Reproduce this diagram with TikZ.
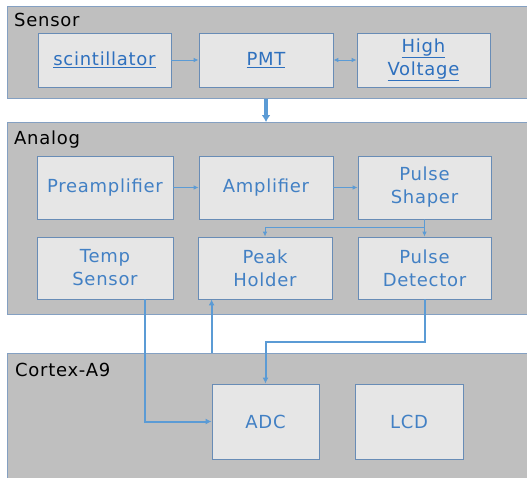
\documentclass[tikz,border=0pt]{standalone}
\usepackage{fontspec}
\setmainfont{DejaVu Sans}[LetterSpace=4]
\usetikzlibrary{arrows.meta,calc}
\definecolor{panelfill}{RGB}{191,191,191}
\definecolor{panelline}{RGB}{132,160,194}
\definecolor{boxfill}{RGB}{230,230,230}
\definecolor{boxline}{RGB}{104,140,182}
\definecolor{txtblue}{RGB}{66,128,196}
\definecolor{linkblue}{RGB}{46,112,190}
\definecolor{conn}{RGB}{91,155,213}
\begin{document}
\begin{tikzpicture}[x=1pt,y=-1pt,
  panel/.style={draw=panelline,fill=panelfill,line width=0.8pt},
  plabel/.style={anchor=base west,inner sep=0pt,font=\fontsize{18}{21}\selectfont,text=black},
  blk/.style={draw=boxline,fill=boxfill,line width=0.8pt,inner sep=0pt,align=center,
    text=txtblue,font=\fontsize{18}{23}\selectfont},
  lnk/.style={text=linkblue},
  thin arrow/.style={draw=conn,line width=0.9pt,-{Latex[length=5pt,width=4.5pt]}},
  thick arrow/.style={draw=conn,line width=2pt,-{Latex[length=6pt,width=6pt]}},
  big arrow/.style={draw=conn,line width=3.5pt,-{Latex[length=7pt,width=9pt]}}]
\useasboundingbox (0,0) rectangle (527,477);
\clip (0,0) rectangle (527,477);
% panels
\node[panel,minimum width=528pt,minimum height=92pt,inner sep=0pt,anchor=north west] (sensor) at (7,6) {};
\node[panel,minimum width=528pt,minimum height=192pt,inner sep=0pt,anchor=north west] (analog) at (7,122) {};
\node[panel,minimum width=528pt,minimum height=132pt,inner sep=0pt,anchor=north west] (cortex) at (7,353) {};
\node[plabel] (lsensor) at (14,26) {Sensor};
\node[plabel] (lanalog) at (14,144) {Analog};
\node[plabel] (lcortex) at (15,376) {Cortex-A9};
% sensor boxes
\node[blk,lnk,minimum width=133pt,minimum height=54pt] (scint) at (104.5,60) {\underline{scintillator}};
\node[blk,lnk,minimum width=134pt,minimum height=54pt] (pmt) at (266,60) {\underline{PMT}};
\node[blk,lnk,minimum width=133pt,minimum height=54pt] (hv) at (423.5,60) {\underline{High}\\\underline{Voltage}};
% analog boxes
\node[blk,minimum width=136pt,minimum height=63pt] (pre) at (105,187.5) {Preamplifier};
\node[blk,minimum width=134pt,minimum height=63pt] (amp) at (266,187.5) {Amplifier};
\node[blk,minimum width=133pt,minimum height=63pt] (shaper) at (424.5,187.5) {Pulse\\Shaper};
\node[blk,minimum width=136pt,minimum height=62pt] (temp) at (105,268) {Temp\\Sensor};
\node[blk,minimum width=134pt,minimum height=62pt] (peak) at (265,268) {Peak\\Holder};
\node[blk,minimum width=133pt,minimum height=62pt] (det) at (424.5,268) {Pulse\\Detector};
% cortex boxes
\node[blk,minimum width=107pt,minimum height=75pt] (adc) at (265.5,421.5) {ADC};
\node[blk,minimum width=108pt,minimum height=75pt] (lcd) at (409,421.5) {LCD};
% connectors
\draw[thin arrow] (scint.east) -- (pmt.west);
\draw[draw=conn,line width=0.9pt,{Latex[length=5pt,width=4.5pt]}-{Latex[length=5pt,width=4.5pt]}] (pmt.east) -- (hv.west);
\draw[thin arrow] (pre.east) -- (amp.west);
\draw[thin arrow] (amp.east) -- (shaper.west);
\draw[thin arrow] (shaper.south) -- (det.north);
\draw[thin arrow] (shaper.south) -- ++(0,8) -| (peak.north);
\draw[big arrow] (sensor.south -| pmt.south) -- (analog.north -| pmt.south);
\draw[thick arrow] ($(temp.south)+(40,0)$) |- (adc.west);
\draw[thick arrow] (cortex.north -| adc.west) -- (peak.south -| adc.west);
\draw[thick arrow] (det.south) -- ++(0,43) -| (adc.north);
\end{tikzpicture}
\end{document}
